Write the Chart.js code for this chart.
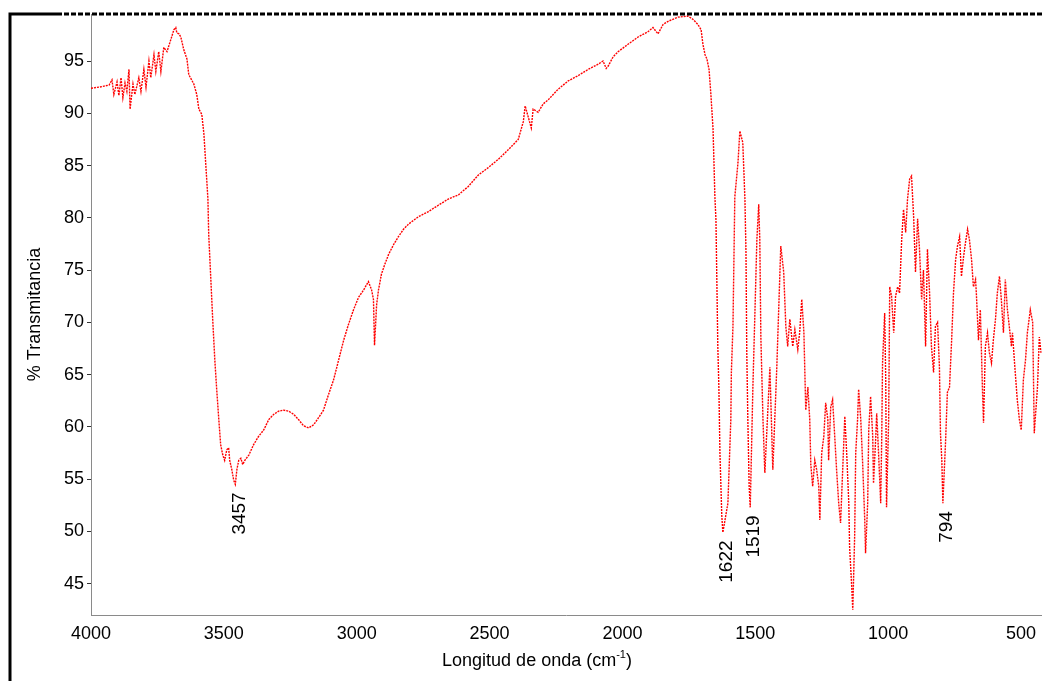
<!DOCTYPE html>
<html>
<head>
<meta charset="utf-8">
<script src="https://cdn.jsdelivr.net/npm/chart.js@4.4.1/dist/chart.umd.min.js"></script>
<style>
    html, body { margin: 0; padding: 0; background: #fff; }
    #wrap { width: 1044px; height: 681px; position: relative; }
</style>
</head>
<body>
<div id="wrap"><canvas id="irChart"></canvas></div>
<script>
// ========== SPECTRUM DATA ==========
const wavenumbers = [
    4000, 3970, 3951, 3932, 3921, 3914, 3902, 3895, 3887, 3880, 3872, 3865, 3857, 3853, 3842, 3835,
    3820, 3812, 3801, 3793, 3782, 3775, 3763, 3756, 3745, 3737, 3726, 3714, 3699, 3688, 3681, 3677,
    3669, 3662, 3651, 3639, 3632, 3613, 3602, 3594, 3583, 3575, 3568, 3560, 3557, 3549, 3542, 3534,
    3527, 3519, 3512, 3504, 3497, 3489, 3482, 3478, 3470, 3463, 3457, 3451, 3444, 3436, 3429, 3421,
    3406, 3388, 3369, 3350, 3331, 3312, 3294, 3275, 3256, 3237, 3219, 3200, 3181, 3162, 3143, 3125,
    3106, 3087, 3068, 3049, 3031, 3012, 2993, 2974, 2956, 2944, 2937, 2933, 2925, 2918, 2907, 2895,
    2880, 2862, 2843, 2824, 2805, 2768, 2730, 2693, 2655, 2617, 2580, 2542, 2505, 2467, 2430, 2392,
    2373, 2366, 2343, 2336, 2317, 2298, 2279, 2242, 2204, 2167, 2129, 2091, 2073, 2061, 2054, 2035,
    2016, 1979, 1941, 1904, 1885, 1866, 1847, 1828, 1791, 1753, 1735, 1716, 1704, 1697, 1689, 1682,
    1674, 1667, 1659, 1652, 1648, 1641, 1637, 1633, 1626, 1622, 1603, 1592, 1590, 1584, 1577, 1565,
    1558, 1547, 1539, 1535, 1532, 1528, 1523, 1519, 1509, 1502, 1494, 1487, 1483, 1479, 1471, 1464,
    1445, 1434, 1419, 1404, 1393, 1385, 1378, 1370, 1359, 1351, 1340, 1333, 1325, 1317, 1310, 1302,
    1295, 1291, 1284, 1276, 1269, 1261, 1257, 1250, 1242, 1235, 1227, 1224, 1216, 1209, 1201, 1194,
    1186, 1179, 1171, 1163, 1156, 1148, 1145, 1137, 1133, 1126, 1122, 1115, 1111, 1103, 1096, 1088,
    1085, 1077, 1073, 1066, 1058, 1055, 1047, 1043, 1036, 1028, 1024, 1021, 1013, 1009, 1006, 998,
    994, 987, 979, 972, 964, 957, 949, 942, 934, 927, 919, 912, 904, 897, 889, 882,
    874, 867, 859, 852, 844, 837, 829, 822, 814, 807, 803, 798, 794, 784, 777, 769,
    761, 754, 746, 739, 731, 724, 716, 709, 701, 694, 686, 679, 671, 668, 660, 653,
    645, 641, 634, 626, 619, 611, 604, 596, 589, 581, 574, 566, 559, 551, 544, 536,
    532, 525, 514, 506, 499, 491, 483, 476, 465, 456, 450, 438, 431, 424
];

const transmittance = [
    92.4, 92.5, 92.6, 92.7, 93.2, 91.8, 93.0, 91.7, 93.4, 91.5, 92.9, 92.1, 94.2, 90.4, 92.8, 91.8,
    93.4, 92.1, 94.2, 92.5, 95.0, 93.4, 95.6, 94.0, 95.9, 94.0, 96.3, 95.9, 97.1, 98.0, 98.2, 97.7,
    97.6, 97.3, 96.1, 95.2, 93.7, 92.8, 91.8, 90.4, 89.9, 88.0, 85.1, 81.8, 78.4, 74.1, 70.3, 66.4,
    63.6, 60.7, 58.3, 57.3, 56.8, 57.8, 58.0, 56.8, 55.9, 54.9, 54.5, 55.9, 56.8, 57.0, 56.4, 56.8,
    57.3, 58.3, 59.1, 59.7, 60.7, 61.2, 61.5, 61.6, 61.5, 61.2, 60.7, 60.1, 59.9, 60.2, 60.9, 61.6,
    63.1, 64.5, 66.4, 68.3, 69.8, 71.2, 72.4, 73.1, 73.9, 73.1, 72.2, 67.8, 71.7, 73.1, 74.6, 75.5,
    76.5, 77.4, 78.2, 78.9, 79.4, 80.1, 80.6, 81.2, 81.8, 82.2, 83.0, 84.1, 84.8, 85.6, 86.5, 87.5,
    89.2, 90.7, 88.6, 90.4, 90.1, 90.9, 91.3, 92.3, 93.1, 93.6, 94.2, 94.7, 95.0, 94.3, 94.5, 95.4,
    95.9, 96.6, 97.3, 97.8, 98.2, 97.6, 98.5, 98.8, 99.2, 99.3, 99.0, 98.5, 98.0, 96.6, 95.6, 95.2,
    94.2, 91.8, 88.5, 82.0, 79.8, 67.7, 63.8, 57.5, 51.5, 49.9, 52.7, 60.7, 65.2, 69.6, 82.0, 85.3,
    88.3, 87.2, 81.8, 76.7, 67.1, 60.7, 54.3, 52.3, 63.8, 70.3, 77.9, 81.3, 77.9, 68.6, 60.7, 55.6,
    65.7, 55.9, 65.7, 77.3, 74.8, 69.6, 67.7, 70.3, 67.7, 69.3, 67.4, 69.0, 72.2, 69.0, 61.6, 63.8,
    60.7, 56.4, 54.3, 56.8, 55.9, 54.3, 51.1, 57.5, 59.1, 62.3, 60.7, 56.8, 61.9, 62.6, 59.1, 55.9,
    52.7, 50.8, 55.9, 61.0, 57.5, 52.7, 48.5, 44.7, 42.5, 49.5, 57.5, 60.7, 63.6, 60.7, 56.6, 51.1,
    47.9, 52.7, 59.7, 62.9, 59.1, 54.6, 58.8, 61.3, 57.5, 52.7, 59.1, 66.1, 70.9, 64.5, 52.3, 60.7,
    73.4, 72.5, 69.0, 72.5, 73.4, 72.8, 77.9, 80.8, 78.6, 81.8, 83.7, 84.0, 80.1, 74.8, 79.9, 77.0,
    72.2, 75.0, 67.7, 77.0, 72.8, 67.7, 65.2, 69.6, 70.0, 65.8, 59.4, 56.8, 52.7, 58.5, 63.3, 63.8,
    68.3, 72.8, 76.0, 77.3, 78.2, 74.4, 76.3, 77.6, 78.9, 77.9, 76.0, 73.4, 74.1, 72.8, 68.3, 71.2,
    63.6, 60.4, 67.7, 69.0, 67.1, 66.1, 68.3, 70.3, 72.8, 74.4, 72.2, 69.0, 74.1, 71.2, 69.6, 67.7,
    69.0, 66.4, 62.6, 60.7, 59.7, 64.5, 66.4, 69.0, 71.2, 70.0, 59.4, 63.8, 68.6, 67.0
];

const xTicks = [4000, 3500, 3000, 2500, 2000, 1500, 1000, 500];
const yTicks = [45, 50, 55, 60, 65, 70, 75, 80, 85, 90, 95];
const peakLabels = [3457, 1622, 1519, 794];

const X_MIN = 422;
const X_MAX = 4000;
const Y_MIN = 42;
const Y_MAX = 99.5;

const FONT = '"Liberation Sans", Arial, sans-serif';

// ========== FRAME, TITLES, PEAK LABELS ==========
const decorPlugin = {
    id: 'decor',
    afterDraw(chart) {
        const c = chart.ctx;
        const xs = chart.scales.x;
        const ys = chart.scales.y;
        c.save();

        // outer frame (left + top)
        c.strokeStyle = '#000';
        c.lineWidth = 3;
        c.beginPath();
        c.moveTo(10, 681);
        c.lineTo(10, 14);
        c.lineTo(57, 14);
        c.stroke();
        c.setLineDash([5, 2]);
        c.beginPath();
        c.moveTo(57, 14);
        c.lineTo(1044, 14);
        c.stroke();
        c.setLineDash([]);

        // peak labels under each minimum
        c.fillStyle = '#000';
        c.font = '19px ' + FONT;
        c.textAlign = 'right';
        c.textBaseline = 'middle';
        peakLabels.forEach(w => {
            const idx = wavenumbers.indexOf(w);
            const px = xs.getPixelForValue(w) + 4;
            const py = ys.getPixelForValue(transmittance[idx]) + 8;
            c.save();
            c.translate(px, py);
            c.rotate(-Math.PI / 2);
            c.fillText(String(w), 0, 0);
            c.restore();
        });

        // y axis title
        c.font = '18px ' + FONT;
        c.textAlign = 'center';
        c.save();
        c.translate(35, (chart.chartArea.top + chart.chartArea.bottom) / 2);
        c.rotate(-Math.PI / 2);
        c.fillText('% Transmitancia', 0, 0);
        c.restore();

        // x axis title with superscript
        const main = 'Longitud de onda (cm';
        const sup = '-1';
        const tail = ')';
        c.font = '18px ' + FONT;
        const wMain = c.measureText(main).width;
        const wTail = c.measureText(tail).width;
        c.font = '11px ' + FONT;
        const wSup = c.measureText(sup).width;
        let x0 = 537 - (wMain + wSup + wTail) / 2;
        c.textAlign = 'left';
        c.font = '18px ' + FONT;
        c.fillText(main, x0, 661);
        c.font = '11px ' + FONT;
        c.fillText(sup, x0 + wMain, 655);
        c.font = '18px ' + FONT;
        c.fillText(tail, x0 + wMain + wSup, 661);

        c.restore();
    }
};

// ========== CHART ==========
const ctx = document.getElementById('irChart').getContext('2d');
const points = wavenumbers.map((w, i) => ({ x: w, y: transmittance[i] }));

new Chart(ctx, {
    type: 'line',
    data: {
        datasets: [{
            data: points,
            borderColor: '#ff0000',
            borderWidth: 1.4,
            borderDash: [2, 1],
            pointRadius: 0,
            tension: 0,
            fill: false
        }]
    },
    options: {
        responsive: true,
        maintainAspectRatio: false,
        animation: false,
        layout: { padding: { top: 14, left: 0, right: 0, bottom: 0 } },
        plugins: {
            legend: { display: false },
            tooltip: { enabled: false }
        },
        scales: {
            x: {
                type: 'linear',
                reverse: true,
                min: X_MIN,
                max: X_MAX,
                afterBuildTicks: s => { s.ticks = xTicks.map(v => ({ value: v })); },
                afterFit: s => { s.height = 66; },
                grid: { display: false, drawTicks: false },
                border: { display: true, color: '#8a8a8a', dash: [1, 1], width: 1 },
                ticks: {
                    color: '#000',
                    font: { family: FONT, size: 18 },
                    padding: 8,
                    maxRotation: 0,
                    autoSkip: false,
                    callback: v => String(v)
                }
            },
            y: {
                min: Y_MIN,
                max: Y_MAX,
                afterBuildTicks: s => { s.ticks = yTicks.map(v => ({ value: v })); },
                afterFit: s => { s.width = 91; },
                grid: { drawOnChartArea: false, drawTicks: true, tickLength: 4, color: '#333' },
                border: { display: true, color: '#8a8a8a', dash: [1, 1], width: 1 },
                ticks: {
                    color: '#000',
                    font: { family: FONT, size: 18 },
                    padding: 3,
                    callback: v => String(v)
                }
            }
        }
    },
    plugins: [decorPlugin]
});
</script>
</body>
</html>
